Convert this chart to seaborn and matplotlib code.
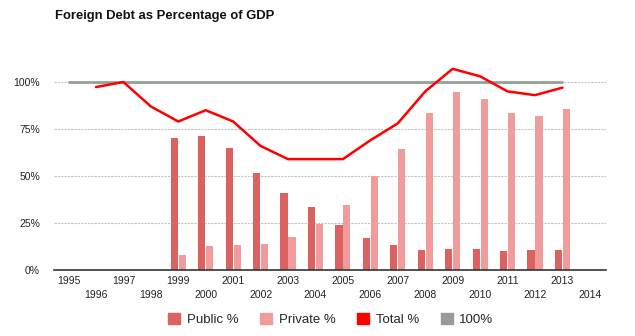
import numpy as np
import pandas as pd
import matplotlib
matplotlib.use("Agg")
import matplotlib.pyplot as plt
from matplotlib.patches import Patch
import seaborn as sns

bar_years = [1999, 2000, 2001, 2002, 2003, 2004, 2005, 2006, 2007, 2008, 2009, 2010, 2011, 2012, 2013]
public_pct = [70, 71.5, 65, 51.5, 41, 33.5, 24, 17, 13.3, 10.6, 11.2, 11.2, 10, 10.6, 10.6]
private_pct = [8, 12.8, 13.3, 13.8, 17.6, 24.7, 34.6, 50, 64.4, 83.5, 94.7, 91, 83.5, 82, 85.6]

total_years = [1996, 1997, 1998, 1999, 2000, 2001, 2002, 2003, 2004, 2005, 2006, 2007, 2008, 2009, 2010, 2011, 2012, 2013]
total_pct = [97.3, 100, 87, 79, 85, 79, 66, 59, 59, 59, 69, 78, 95, 107, 103, 95, 93, 97]

ref_years = [1995, 2013]
ref_pct = [100, 100]

tick_years = list(range(1995, 2015))
ytick_vals = [0, 25, 50, 75, 100]
ytick_labels = ["0%", "25%", "50%", "75%", "100%"]

c_public = "#dc6262"
c_private = "#f09c9c"
c_total = "#ff0000"
c_ref = "#999999"

sns.set_theme(style="white")
plt.rcParams["font.family"] = ["Liberation Sans", "DejaVu Sans"]

fig = plt.figure(figsize=(6.35, 3.36), dpi=100)
ax = fig.add_axes([0.085, 0.196, 0.869, 0.616])

bars = pd.DataFrame({
    "year": bar_years * 2,
    "value": public_pct + private_pct,
    "series": ["Public %"] * len(bar_years) + ["Private %"] * len(bar_years),
})
sns.barplot(data=bars, x="year", y="value", hue="series", native_scale=True,
            palette={"Public %": c_public, "Private %": c_private},
            width=0.58, gap=0.1, dodge=True, ax=ax, legend=False,
            saturation=1, linewidth=0, zorder=2)

ref = pd.DataFrame({"year": ref_years, "value": ref_pct})
sns.lineplot(data=ref, x="year", y="value", color="#96a096", linewidth=2.0,
             ax=ax, zorder=3)
tot = pd.DataFrame({"year": total_years, "value": total_pct})
sns.lineplot(data=tot, x="year", y="value", color=c_total, linewidth=1.8,
             ax=ax, zorder=4)

ax.set_xlim(1994.47, 2014.58)
ax.set_ylim(0, 110)
ax.set_yticks(ytick_vals)
ax.set_yticklabels(ytick_labels, fontsize=7.5, color="#222222")
ax.set_xticks(tick_years)
ax.set_xticklabels([str(y) if (y % 2 == 1) else "\n" + str(y) for y in tick_years],
                   fontsize=7.5, color="#222222", linespacing=1.5)
ax.tick_params(axis="both", length=0, pad=4)
ax.tick_params(axis="y", pad=10)
ax.set_xlabel("")
ax.set_ylabel("")
for s in ["top", "right", "left"]:
    ax.spines[s].set_visible(False)
ax.spines["bottom"].set_color("#333333")
ax.spines["bottom"].set_linewidth(1.2)
ax.spines["bottom"].set_zorder(5)
ax.yaxis.grid(True, color="#c4c4c4", linewidth=0.8, linestyle=(0, (2, 1)))
ax.xaxis.grid(False)
ax.set_axisbelow(True)

fig.text(0.087, 0.952, "Foreign Debt as Percentage of GDP", fontsize=9.4,
         fontweight="bold", ha="left", va="center", color="#111111")

handles = [Patch(color=c_public, label="Public %"),
           Patch(color=c_private, label="Private %"),
           Patch(color=c_total, label="Total %"),
           Patch(color=c_ref, label="100%")]
fig.legend(handles=handles, loc="center", bbox_to_anchor=(0.521, 0.048), ncol=4,
           frameon=False, fontsize=9.5, handlelength=0.9, handleheight=0.9,
           handletextpad=0.5, columnspacing=1.65)

fig.savefig("out.png", dpi=100)
